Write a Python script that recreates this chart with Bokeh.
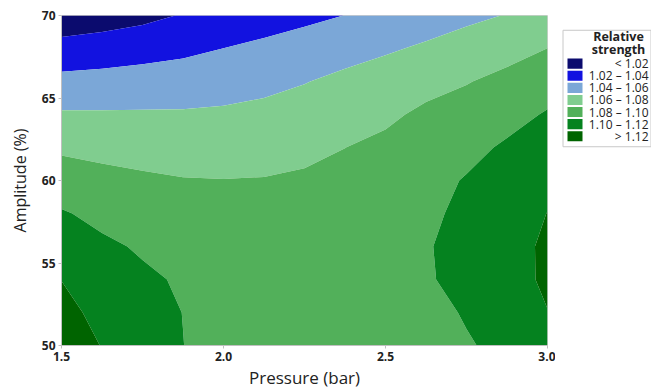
import numpy as np
from bokeh.plotting import figure
from bokeh.layouts import row
from bokeh.models import Range1d, FixedTicker
from bokeh.core.properties import value
from bokeh.embed import file_html
from bokeh.resources import INLINE

# ---- data ----
pressure = [1.5, 1.625, 1.75, 1.875, 2.0, 2.125, 2.25, 2.375, 2.5, 2.625, 2.75, 2.875, 3.0]
amplitude = [50, 52, 54, 56, 58, 60, 62, 64, 66, 68, 70]

strength_a50 = [1.1338, 1.1192, 1.1095, 1.1002, 1.0930, 1.0880, 1.0860, 1.0865, 1.0890, 1.0935, 1.0985, 1.1045, 1.1140]
strength_a52 = [1.1268, 1.1138, 1.1061, 1.0998, 1.0918, 1.0868, 1.0850, 1.0858, 1.0890, 1.0945, 1.1015, 1.1090, 1.1195]
strength_a54 = [1.1197, 1.1084, 1.1026, 1.0983, 1.0905, 1.0858, 1.0845, 1.0858, 1.0905, 1.0985, 1.1045, 1.1110, 1.1238]
strength_a56 = [1.1107, 1.1030, 1.0982, 1.0945, 1.0880, 1.0848, 1.0840, 1.0858, 1.0905, 1.0988, 1.1055, 1.1115, 1.1238]
strength_a58 = [1.1016, 1.0956, 1.0906, 1.0885, 1.0845, 1.0835, 1.0845, 1.0875, 1.0920, 1.0970, 1.1035, 1.1105, 1.1203]
strength_a60 = [1.0898, 1.0857, 1.0829, 1.0809, 1.0804, 1.0808, 1.0825, 1.0850, 1.0895, 1.0945, 1.1012, 1.1070, 1.1146]
strength_a62 = [1.0768, 1.0747, 1.0731, 1.0720, 1.0721, 1.0734, 1.0758, 1.0799, 1.0840, 1.0880, 1.0950, 1.1025, 1.1081]
strength_a64 = [1.0622, 1.0620, 1.0620, 1.0619, 1.0629, 1.0649, 1.0676, 1.0715, 1.0767, 1.0835, 1.0867, 1.0939, 1.1016]
strength_a66 = [1.0454, 1.0467, 1.0482, 1.0497, 1.0519, 1.0551, 1.0593, 1.0642, 1.0692, 1.0742, 1.0792, 1.0845, 1.0914]
strength_a68 = [1.0270, 1.0293, 1.0325, 1.0358, 1.0401, 1.0445, 1.0489, 1.0533, 1.0576, 1.0627, 1.0685, 1.0742, 1.0801]
strength_a70 = [1.0070, 1.0107, 1.0149, 1.0212, 1.0257, 1.0305, 1.0354, 1.0402, 1.0454, 1.0505, 1.0557, 1.0608, 1.0658]

levels = [0.95, 1.02, 1.04, 1.06, 1.08, 1.10, 1.12, 1.20]
level_labels = ["< 1.02", "1.02 \u2013 1.04", "1.04 \u2013 1.06", "1.06 \u2013 1.08",
                "1.08 \u2013 1.10", "1.10 \u2013 1.12", "> 1.12"]
level_colors = ["#0b0b6e", "#1212e0", "#7ba7d7", "#80cd8f", "#52b05a", "#05821f", "#006400"]

x_ticks = [1.5, 2.0, 2.5, 3.0]
x_tick_labels = ["1.5", "2.0", "2.5", "3.0"]
y_ticks = [50, 55, 60, 65, 70]
y_tick_labels = ["50", "55", "60", "65", "70"]

z = np.array([strength_a50, strength_a52, strength_a54, strength_a56, strength_a58,
              strength_a60, strength_a62, strength_a64, strength_a66, strength_a68,
              strength_a70])

FONT = "Open Sans"
TXT = "#222222"

p = figure(width=555, height=391, x_range=Range1d(1.5, 3.0), y_range=Range1d(50, 70),
           output_backend="svg", toolbar_location=None,
           min_border_left=61, min_border_right=8, min_border_top=15, min_border_bottom=44)
p.contour(pressure, amplitude, z, levels, fill_color=level_colors)

p.xgrid.visible = False
p.ygrid.visible = False
p.outline_line_color = "#cfcfcf"
p.background_fill_color = "white"
p.border_fill_color = "white"

p.xaxis.ticker = FixedTicker(ticks=x_ticks)
p.xaxis.major_label_overrides = dict(zip(x_ticks, x_tick_labels))
p.yaxis.ticker = FixedTicker(ticks=y_ticks)
p.yaxis.major_label_overrides = dict(zip(y_ticks, y_tick_labels))
p.xaxis.axis_label = "Pressure (bar)"
p.yaxis.axis_label = "Amplitude (%)"
for ax in (p.xaxis, p.yaxis):
    ax.axis_line_color = "#c0c0c0"
    ax.major_tick_line_color = "#c0c0c0"
    ax.major_tick_out = 3
    ax.major_tick_in = 0
    ax.minor_tick_line_color = None
    ax.major_label_text_font = FONT
    ax.major_label_text_font_size = "12px"
    ax.major_label_text_font_style = "bold"
    ax.major_label_text_color = TXT
    ax.axis_label_text_font = FONT
    ax.axis_label_text_font_style = "normal"
    ax.axis_label_text_color = TXT
p.xaxis.axis_label_text_font_size = "17px"
p.yaxis.axis_label_text_font_size = "16px"
p.xaxis.major_label_standoff = 3
p.xaxis.axis_label_standoff = 2
p.yaxis.major_label_standoff = 3
p.yaxis.axis_label_standoff = 8

# ---- legend panel ----
lg = figure(width=96, height=391, x_range=Range1d(0, 96), y_range=Range1d(391, 0),
            output_backend="svg", toolbar_location=None,
            min_border_left=0, min_border_right=0, min_border_top=0, min_border_bottom=0)
lg.axis.visible = False
lg.xgrid.visible = False
lg.ygrid.visible = False
lg.outline_line_color = None
lg.background_fill_color = "white"
lg.border_fill_color = "white"

lg.quad(left=[7.5], right=[95.5], top=[17.5], bottom=[155.5], fill_color="white",
        line_color="#c8c8c8", line_width=1)
lg.text(x=[63, 63], y=[25, 40], text=["Relative", "strength"], text_align="center",
        text_baseline="middle", text_font=value(FONT), text_font_style="bold",
        text_font_size="12.5px", text_color=TXT)
n = len(level_labels)
ys = [57 + 14.35 * i for i in range(n)]
lg.quad(left=[12] * n, right=[27] * n, top=[yy - 6 for yy in ys], bottom=[yy + 6 for yy in ys],
        fill_color=level_colors, line_color=None)
lg.text(x=[93] * n, y=ys, text=level_labels, text_align="right", text_baseline="middle",
        text_font=value(FONT), text_font_size="12px", text_color=TXT)

layout = row(p, lg)
open("out.html", "w").write(file_html(layout, INLINE))
